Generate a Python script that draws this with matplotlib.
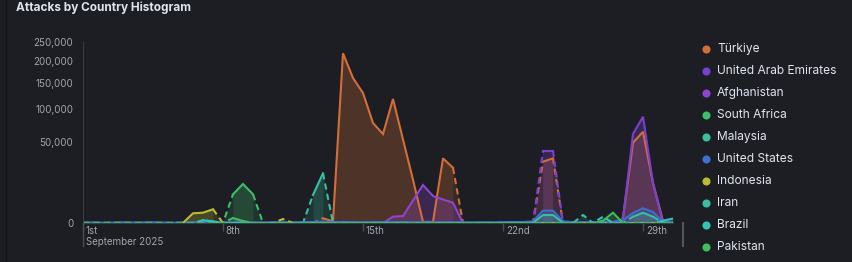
import numpy as np
import pandas as pd
import matplotlib
matplotlib.use('Agg')
import matplotlib.pyplot as plt
import matplotlib.dates as mdates

# 12-hour buckets starting Sep 1 2025, 60 of them
start_day = '2025-09-01'
n_buckets = 60

countries = ['Türkiye', 'United Arab Emirates', 'Afghanistan', 'South Africa', 'Malaysia',
             'United States', 'Indonesia', 'Iran', 'Brazil', 'Pakistan']
colors = ['#D36E39', '#7A3FD1', '#8E44CE', '#3BBF6A', '#38C0A0',
          '#3E6FD0', '#BDBB34', '#36BFA5', '#33C4B8', '#3DBE58']

# bucket index (half days since Sep 1) and attack counts, missing buckets are gaps
turkiye_idx = [24, 25, 26, 27, 28, 29, 30, 31, 32, 33, 34, 35, 36, 37, 46, 47, 54, 55, 56, 57, 58]
turkiye_val = [170, 20, 219750, 160400, 129000, 76300, 60400, 117300, 53200, 14300, 10, 10,
               31900, 23300, 28700, 31900, 190, 49200, 63600, 12200, 30]
uae_idx = [46, 47, 54, 55, 56, 57, 58]
uae_val = [39900, 39900, 150, 60400, 86200, 12200, 0]
afghanistan_idx = [30, 31, 32, 33, 34, 35, 36, 37, 38]
afghanistan_val = [0, 303, 373, 3860, 11020, 5560, 4210, 3140, 0]
south_africa_idx = [15, 16, 17]
south_africa_val = [6290, 11600, 6290]
malaysia_idx = [23, 24]
malaysia_val = [5980, 18850]
us_idx = list(range(60))
us_val = [2, 3, 1, 2, 4, 2, 3, 5, 2, 1, 3, 6, 8, 5, 3, 4, 6, 3, 2, 4,
          5, 3, 6, 8, 12, 6, 9, 5, 4, 6, 8, 5, 7, 4, 6, 3, 5, 4, 3, 2,
          4, 3, 5, 6, 8, 20, 1155, 1155, 20, 6, 5, 8, 6, 9, 60, 763, 1650, 923, 10, 6]
indonesia_idx = [10, 11, 12, 13, 20]
indonesia_val = [0, 718, 810, 1430, 122]
iran_idx = [45, 46, 47, 48, 50, 55, 56, 57]
iran_val = [0, 488, 488, 0, 488, 303, 810, 303]
brazil_idx = [12, 13, 52, 58, 59]
brazil_val = [60, 20, 300, 40, 150]
pakistan_idx = [15, 16, 52, 53, 54]
pakistan_val = [190, 30, 40, 810, 0]

series_idx = [turkiye_idx, uae_idx, afghanistan_idx, south_africa_idx, malaysia_idx,
              us_idx, indonesia_idx, iran_idx, brazil_idx, pakistan_idx]
series_val = [turkiye_val, uae_val, afghanistan_val, south_africa_val, malaysia_val,
              us_val, indonesia_val, iran_val, brazil_val, pakistan_val]

tick_days = ['2025-09-01', '2025-09-08', '2025-09-15', '2025-09-22', '2025-09-29']
tick_labels = ['1st\nSeptember 2025', '8th', '15th', '22nd', '29th']
y_ticks = [0, 50000, 100000, 150000, 200000, 250000]

BG = '#1D1E24'
TEXT = '#DFE5EF'
MUTED = '#A1A5AE'
FONT = ['Inter', 'DejaVu Sans']
plt.rcParams['font.family'] = FONT

times = pd.date_range(start_day, periods=n_buckets, freq='12h')
x = mdates.date2num(times)


def draw_series(ax, idx, val, color):
    y = np.zeros(n_buckets)
    seen = np.zeros(n_buckets, bool)
    y[idx] = val
    seen[idx] = True
    solid = seen[:-1] & seen[1:]
    s = 0
    for i in range(1, len(solid) + 1):
        if i == len(solid) or solid[i] != solid[s]:
            sl = slice(s, i + 1)
            if solid[s]:
                ax.fill_between(x[sl], 0, y[sl], color=color, alpha=0.27, lw=0)
                ax.plot(x[sl], y[sl], color=color, lw=1.5, solid_joinstyle='miter')
            else:
                ax.fill_between(x[sl], 0, y[sl], color=color, alpha=0.14, lw=0)
                ax.plot(x[sl], y[sl], color=color, lw=1.5, ls=(0, (3, 2)))
            s = i


fig = plt.figure(figsize=(8.53, 2.62), dpi=100)
fig.patch.set_facecolor(BG)
ax = fig.add_axes([83 / 853, 39 / 262, 590 / 853, 181 / 262])
ax.set_facecolor(BG)

for idx, val, c in zip(series_idx, series_val, colors):
    draw_series(ax, idx, val, c)

ax.set_yscale('function', functions=(lambda v: np.sqrt(np.clip(v, 0, None)), lambda v: np.square(v)))
ax.set_ylim(0, 250000)
ax.set_xlim(x[0], x[-1])
ax.set_yticks(y_ticks)
ax.set_yticklabels([f'{v:,}' for v in y_ticks])
ax.tick_params(axis='y', length=0, pad=7, labelsize=7, labelcolor=MUTED)

tick_x = mdates.date2num(pd.to_datetime(tick_days))
ax.set_xticks(tick_x)
ax.set_xticklabels([])
ax.tick_params(axis='x', length=6, width=1, color='#4B4D55', direction='out')
for tx, lab in zip(tick_x, tick_labels):
    ax.annotate(lab, xy=(tx, 0), xycoords=('data', 'axes fraction'), xytext=(2, -2.5),
                textcoords='offset points', ha='left', va='top', fontsize=7,
                color=MUTED, linespacing=1.05)

for sp in ['top', 'right']:
    ax.spines[sp].set_visible(False)
ax.spines['left'].set_color('#3C3D44')
ax.spines['bottom'].set_color('#3C3D44')

# overlay in pixel coordinates for title, legend and frame bits
lax = fig.add_axes([0, 0, 1, 1], zorder=5)
lax.set_xlim(0, 853)
lax.set_ylim(262, 0)
lax.axis('off')
lax.patch.set_visible(False)

lax.text(16, 8, 'Attacks by Country Histogram', fontsize=8.5, fontweight='bold',
         color=TEXT, va='center', ha='left')
lax.plot([83, 83], [223, 246], color='#4B4D55', lw=1)
lax.plot([6, 6], [0, 262], color='#141519', lw=1)
lax.plot([683, 683], [223, 246], color='#55565C', lw=1.5)

for i, (name, c) in enumerate(zip(countries, colors)):
    yy = 49 + 22 * i
    lax.scatter([706], [yy], s=34, color=c, lw=0)
    lax.text(717, yy, name, fontsize=8.6, color=TEXT, va='center', ha='left')

fig.savefig('out.png', dpi=100, facecolor=BG)
